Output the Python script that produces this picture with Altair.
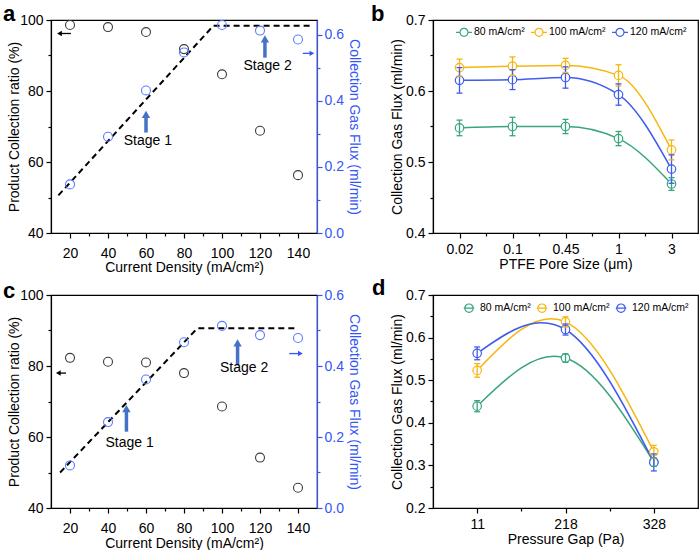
import json
import altair as alt
import pandas as pd

FONT = "Liberation Sans"
BLUE_AX = "#3456f5"
BLUE_PT = "#5a7cff"
ARROW = "#4472c4"
BLACK_PT = "#3a3a3a"

# ---------------- data: panels a and c ----------------
current_density = [20, 40, 60, 80, 100, 120, 140]
a_ratio = [98.6, 98.0, 96.6, 91.8, 84.7, 68.8, 56.3]
a_flux = [0.147, 0.291, 0.431, 0.546, 0.629, 0.612, 0.585]
c_ratio = [82.3, 81.2, 81.0, 78.0, 68.6, 54.2, 45.7]
c_flux = [0.120, 0.242, 0.362, 0.467, 0.513, 0.487, 0.479]

a_guide_x = [13.9, 95.5, 148.0]
a_guide_y = [50.6, 98.4, 98.4]
c_guide_x = [14.8, 87.0, 140.0]
c_guide_y = [50.0, 90.6, 90.6]

stage_labels = ["Stage 1", "Stage 2"]
a_stage_x = [60.0, 122.6]
a_stage_y0 = [68.3, 89.4]
a_stage_y1 = [74.4, 95.7]
a_stage_text_x = [61.0, 124.0]
a_stage_text_y = [66.0, 87.0]
c_stage_x = [49.7, 108.2]
c_stage_y0 = [61.5, 80.2]
c_stage_y1 = [69.0, 87.5]
c_stage_text_x = [51.4, 111.6]
c_stage_text_y = [58.2, 79.5]

# axis pointer arrows: [tail x, tip x, y (left axis units)]
a_left_ptr = [20.5, 13.2, 96.2]
a_right_ptr = [142.5, 148.6, 90.6]
c_left_ptr = [17.9, 12.6, 78.0]
c_right_ptr = [135.4, 142.5, 83.5]

a_flux_max = 0.644
c_flux_max = 0.6

# ---------------- data: panels b and d ----------------
series_names = ["80 mA/cm²", "100 mA/cm²", "120 mA/cm²"]
series_colors = ["#3aa57c", "#f6b60d", "#3f5cf0"]

pore_sizes = ["0.02", "0.1", "0.45", "1", "3"]
b_80 = [0.548, 0.550, 0.550, 0.533, 0.469]
b_80_err = [0.011, 0.013, 0.010, 0.010, 0.009]
b_100 = [0.633, 0.635, 0.636, 0.622, 0.517]
b_100_err = [0.012, 0.013, 0.010, 0.015, 0.014]
b_120 = [0.615, 0.616, 0.619, 0.595, 0.490]
b_120_err = [0.018, 0.014, 0.015, 0.015, 0.020]

pressure_gaps = ["11", "218", "328"]
d_80 = [0.439, 0.552, 0.308]
d_80_err = [0.013, 0.010, 0.010]
d_100 = [0.523, 0.637, 0.332]
d_100_err = [0.016, 0.012, 0.015]
d_120 = [0.563, 0.619, 0.307]
d_120_err = [0.015, 0.013, 0.020]


def tick_cond(test, major=5, minor=3):
    return {"condition": {"test": test, "value": major}, "value": minor}


def letter_mark(letter, dx, dy):
    return alt.Chart(pd.DataFrame({"t": [letter]})).mark_text(
        align="left", baseline="alphabetic", fontSize=22, fontWeight="bold",
        font=FONT, color="black"
    ).encode(text="t:N", x=alt.value(dx), y=alt.value(dy))


def dual_panel(ratio, flux, gx, gy, st_x, st_y0, st_y1, st_tx, st_ty,
               lptr, rptr, flux_max, letter, label_pad, title_y, anchor=False):
    xs = alt.Scale(domain=[10, 150], nice=False, zero=False)
    ls = alt.Scale(domain=[40, 100], nice=False, zero=False)
    rs = alt.Scale(domain=[0, flux_max], nice=False, zero=False)

    x_axis = alt.Axis(
        values=list(range(20, 141, 10)),
        labelExpr="datum.value % 20 == 0 ? datum.label : ''",
        tickSize=tick_cond("datum.value % 20 == 0"),
        title="Current Density (mA/cm²)", labelPadding=label_pad, titleY=title_y,
    )
    l_axis = alt.Axis(
        values=[40, 50, 60, 70, 80, 90, 100],
        labelExpr="datum.value % 20 == 0 ? datum.label : ''",
        tickSize=tick_cond("datum.value % 20 == 0"),
        title="Product Collection ratio (%)", titleAngle=270,
        titleBaseline="alphabetic", titleX=-33, labelPadding=3,
    )
    r_axis = alt.Axis(
        orient="right", values=[0, 0.1, 0.2, 0.3, 0.4, 0.5, 0.6], format=".1f",
        labelExpr="round(datum.value * 10) % 2 == 0 ? datum.label : ''",
        tickSize=tick_cond("round(datum.value * 10) % 2 == 0"),
        title="Collection Gas Flux (ml/min)", titleAngle=90, titleBaseline="alphabetic",
        titleX=32, labelPadding=2, domainColor=BLUE_AX, tickColor=BLUE_AX,
        labelColor=BLUE_AX, titleColor=BLUE_AX,
    )

    pts = pd.DataFrame({"cd": current_density, "ratio": ratio, "flux": flux})
    guide = pd.DataFrame({"cd": gx, "v": gy})
    stages = pd.DataFrame({"x": st_x, "y0": st_y0, "y1": st_y1, "tx": st_tx,
                           "ty": st_ty, "label": stage_labels})
    lp = pd.DataFrame({"tail": [lptr[0]], "tip": [lptr[1]], "y": [lptr[2]]})
    rp = pd.DataFrame({"tail": [rptr[0]], "tip": [rptr[1]], "y": [rptr[2]]})

    def X(f):
        return alt.X(f, type="quantitative", scale=xs, axis=x_axis)

    def YL(f):
        return alt.Y(f, type="quantitative", scale=ls, axis=l_axis)

    guide_l = alt.Chart(guide).mark_line(strokeDash=[6, 4], strokeWidth=2, color="black").encode(
        x=X("cd"), y=YL("v"))
    black = alt.Chart(pts).mark_point(shape="circle", size=80, color=BLACK_PT, strokeWidth=1.1,
                                      filled=False, opacity=1).encode(x=X("cd"), y=YL("ratio"))
    body = alt.Chart(stages).mark_rule(color=ARROW, strokeWidth=3.5, y2Offset=5).encode(
        x=X("x"), y=YL("y0"), y2=alt.Y2("y1"))
    head = alt.Chart(stages).mark_point(shape="triangle-up", filled=True, color=ARROW, size=70,
                                        yOffset=3.6, opacity=1).encode(x=X("x"), y=YL("y1"))
    stext = alt.Chart(stages).mark_text(fontSize=14, font=FONT, align="center",
                                        baseline="middle", color="black").encode(
        x=X("tx"), y=YL("ty"), text="label:N")
    lbody = alt.Chart(lp).mark_rule(color="black", strokeWidth=1.3, x2Offset=3).encode(
        x=X("tail"), x2=alt.X2("tip"), y=YL("y"))
    lhead = alt.Chart(lp).mark_point(shape="triangle-left", filled=True, color="black", size=30,
                                     xOffset=2.4, opacity=1).encode(x=X("tip"), y=YL("y"))
    rbody = alt.Chart(rp).mark_rule(color=BLUE_AX, strokeWidth=1.3, x2Offset=-3).encode(
        x=X("tail"), x2=alt.X2("tip"), y=YL("y"))
    rhead = alt.Chart(rp).mark_point(shape="triangle-right", filled=True, color=BLUE_AX, size=30,
                                     xOffset=-2.4, opacity=1).encode(x=X("tip"), y=YL("y"))
    layers = [guide_l, black, body, head, stext, lbody, lhead, rbody, rhead, letter]
    if anchor:
        layers.append(alt.Chart(pd.DataFrame({"k": [0]})).mark_rule(color="white", strokeWidth=1).encode(
            x=alt.value(-49.5), y=alt.value(-18.5), y2=alt.value(-17.5)))
    left = alt.layer(*layers)
    blue = alt.Chart(pts).mark_point(shape="circle", size=80, color=BLUE_PT, strokeWidth=1.1,
                                     filled=False, opacity=1).encode(
        x=X("cd"), y=alt.Y("flux", type="quantitative", scale=rs, axis=r_axis))
    return alt.layer(left, blue).resolve_scale(y="independent").properties(width=266, height=213)


def flux_panel(cats, vals_list, errs_list, ydom, yvalues, interp, x_title, symbol, sym_size,
               leg_x, leg_y, leg_off, leg_pad, letter, label_pad, title_y):
    rows = []
    for name, vals, errs in zip(series_names, vals_list, errs_list):
        for i, (v, e) in enumerate(zip(vals, errs)):
            rows.append({"idx": i, "series": name, "v": v, "lo": v - e, "hi": v + e})
    df = pd.DataFrame(rows)
    n = len(cats)
    xs = alt.Scale(domain=[-0.5, n - 0.5], nice=False, zero=False)
    ys = alt.Scale(domain=ydom, nice=False, zero=False)
    ss = alt.Scale(domain=series_names, range=series_colors)
    x_axis = alt.Axis(
        values=[i * 0.5 for i in range(0, 2 * (n - 1) + 1)],
        labelExpr="datum.value % 1 == 0 ? " + json.dumps(cats) + "[datum.value] : ''",
        tickSize=tick_cond("datum.value % 1 == 0"),
        title=x_title, labelPadding=label_pad, titleY=title_y,
    )
    y_axis = alt.Axis(
        values=yvalues, format=".1f",
        labelExpr="round(datum.value * 100) % 10 == 0 ? datum.label : ''",
        tickSize=tick_cond("round(datum.value * 100) % 10 == 0"),
        title="Collection Gas Flux (ml/min)", titleAngle=270, titleBaseline="alphabetic",
        titleX=-31.4, labelPadding=3,
    )
    legend = alt.Legend(orient="none", legendX=leg_x, legendY=leg_y, direction="horizontal",
                        title=None, symbolType=symbol, symbolSize=sym_size, symbolStrokeWidth=1.2,
                        symbolFillColor="white", labelFontSize=10.5, labelFont=FONT,
                        labelColor="black", labelOffset=leg_off, columnPadding=leg_pad, padding=0)
    base = alt.Chart(df)

    def X(f="idx"):
        return alt.X(f, type="quantitative", scale=xs, axis=x_axis)

    def Y(f):
        return alt.Y(f, type="quantitative", scale=ys, axis=y_axis)

    def S():
        return alt.Stroke("series", type="nominal", scale=ss, legend=legend)

    line = base.mark_line(interpolate=interp, strokeWidth=1.5).encode(x=X(), y=Y("v"), stroke=S())
    pts = base.mark_point(shape="circle", size=72, filled=True, fill="white", fillOpacity=1,
                          strokeWidth=1.2, opacity=1).encode(x=X(), y=Y("v"), stroke=S())
    bar = base.mark_rule(strokeWidth=1.3).encode(x=X(), y=Y("lo"), y2=alt.Y2("hi"), stroke=S())
    cap_lo = base.mark_rule(strokeWidth=1.3, xOffset=-3, x2Offset=3).encode(
        x=X(), x2=alt.X2("idx"), y=Y("lo"), stroke=S())
    cap_hi = base.mark_rule(strokeWidth=1.3, xOffset=-3, x2Offset=3).encode(
        x=X(), x2=alt.X2("idx"), y=Y("hi"), stroke=S())
    return alt.layer(line, pts, bar, cap_lo, cap_hi, letter).properties(width=265, height=213)


SYM_B = "M-1,0L-0.55,0M0.55,0L1,0M0.5,0A0.5,0.5,0,1,1,-0.5,0A0.5,0.5,0,1,1,0.5,0"
SYM_D = "M-1,0L1,0M0.8,0A0.8,0.8,0,1,1,-0.8,0A0.8,0.8,0,1,1,0.8,0"

pa = dual_panel(a_ratio, a_flux, a_guide_x, a_guide_y, a_stage_x, a_stage_y0, a_stage_y1,
                a_stage_text_x, a_stage_text_y, a_left_ptr, a_right_ptr, a_flux_max,
                letter_mark("a", -48, 1), 8, 27.5, anchor=True)
pc = dual_panel(c_ratio, c_flux, c_guide_x, c_guide_y, c_stage_x, c_stage_y0, c_stage_y1,
                c_stage_text_x, c_stage_text_y, c_left_ptr, c_right_ptr, c_flux_max,
                letter_mark("c", -48, 3), 8.5, 28)
pb = flux_panel(pore_sizes, [b_80, b_100, b_120], [b_80_err, b_100_err, b_120_err], [0.4, 0.7],
                [0.4, 0.45, 0.5, 0.55, 0.6, 0.65, 0.7], "monotone", "PTFE Pore Size (μm)",
                SYM_B, 256, 22, 3, 1, 3, letter_mark("b", -62, 1), 4, 24.5)
pd_ = flux_panel(pressure_gaps, [d_80, d_100, d_120], [d_80_err, d_100_err, d_120_err], [0.2, 0.7],
                 [0.2, 0.25, 0.3, 0.35, 0.4, 0.45, 0.5, 0.55, 0.6, 0.65, 0.7], "natural",
                 "Pressure Gap (Pa)", SYM_D, 110, 30, 7, 5, 3, letter_mark("d", -61, 0), 4, 24)

chart = alt.concat(
    pa, pb, pc, pd_, columns=2, spacing={"row": 62, "column": 116}, bounds="flush"
).resolve_scale(
    x="independent", y="independent", stroke="independent"
).resolve_legend(stroke="independent").properties(padding=0).configure(font=FONT).configure_view(
    stroke="black", strokeWidth=1.2
).configure_axis(
    labelFont=FONT, titleFont=FONT, labelFontSize=14, titleFontSize=14, titleFontWeight="normal",
    labelColor="black", titleColor="black", domainColor="black", tickColor="black",
    domainWidth=1.2, tickWidth=1.2, grid=False, labelFlush=False, labelOverlap=False,
    labelBound=False,
)

chart.save("out.html", embed_options={"renderer": "svg", "actions": False})
